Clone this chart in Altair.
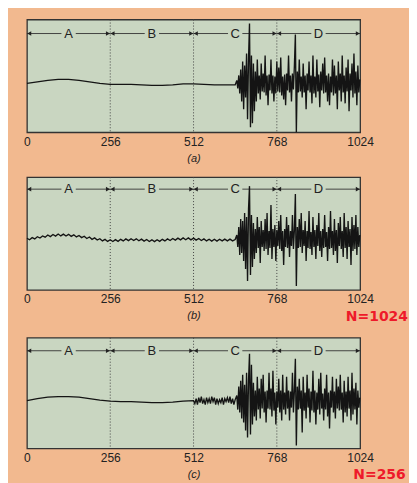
import altair as alt
import pandas as pd

# ---------------- data ----------------
tick_values = [0, 256, 512, 768, 1024]
grid_x = [256, 512, 768]
seg_names = ["A", "B", "C", "D"]
seg_start = [0, 256, 512, 768]
seg_end = [256, 512, 768, 1024]
arrow_y = 50

# sample index of the noisy part (every 3rd sample from 645)
noise_x = list(range(645, 1024, 3))

# panel (a): smooth part (every 32 samples) + noisy part
a_smooth_x = list(range(0, 641, 32))
a_smooth_y = [0, 1.5, 3, 4, 4, 3, 1.5, 0, -1, -1, -1, -1.5, -2, -2, -1.5, -0.5,
              -0.5, -1, -1.5, -1.5, -1.5]
a_noise = [3, -5, 8, -10, 14, -18, 22, -26, 18, -14,
           30, -36, 24, 60, -44, 28, -40, 20, -28, 12,
           -18, 24, -10, 8, -16, 20, -8, 10, -9, 28,
           -12, 8, -22, 9, -7, 24, -10, 8, -18, 7,
           -10, 22, -8, 16, -9, 26, -12, 7, -16, 9,
           -22, 10, -7, 28, -9, 8, -18, 10, -6, 18,
           49, -49, 12, -9, 24, -8, 7, -14, 20, -9,
           8, -26, 10, -7, 22, -9, 8, -20, 28, -10,
           7, -14, 24, -8, 9, -24, 12, -7, 20, -10,
           26, -9, 8, -18, 10, -22, 7, -9, 24, -12,
           18, -10, 8, -26, 22, -7, 10, -18, 28, -9,
           8, -20, 16, -8, 24, -28, 10, -7, 20, -14,
           30, -10, 12, -22, 18, -9, 4]

# panel (b): fuzzy slow part (every 8 samples) + noisy part
b_smooth_x = list(range(0, 641, 8))
b_smooth_y = [0.8, -0.7, 1.4, 0.1, 2.3, 1.0, 3.1, 1.8, 4.0, 2.4,
              4.5, 2.9, 5.0, 3.1, 4.9, 3.0, 4.7, 2.7, 4.2, 2.1,
              3.5, 1.4, 2.8, 0.5, 2.0, -0.3, 1.1, -1.0, 0.3, -1.9,
              -0.4, -2.4, -0.7, -2.5, -0.6, -2.3, -0.3, -1.9, 0.1, -1.6,
              0.3, -1.5, 0.2, -1.7, -0.1, -2.1, -0.5, -2.5, -0.8, -2.6,
              -0.7, -2.3, -0.3, -1.9, 0.1, -1.5, 0.5, -1.1, 0.9, -0.8,
              1.1, -0.7, 1.1, -0.8, 0.9, -1.1, 0.5, -1.5, 0.1, -1.9,
              -0.2, -2.1, -0.3, -2.1, -0.2, -1.9, -0.1, -1.9, -0.1, -1.9,
              -0.5]
b_noise = [4, -8, 12, -16, 20, -14, 18, -22, 26, -30,
           22, -42, 30, 53, -36, 24, -28, 16, -20, 10,
           -14, 22, -9, 12, -24, 18, -8, 9, -12, 20,
           -10, 26, -16, 8, -9, 34, -20, 10, -8, 14,
           -22, 9, -7, 18, -10, 24, -12, 8, -26, 10,
           -8, 22, -9, 14, -18, 8, -7, 24, -10, 9,
           45, -47, 12, -9, 20, -8, 26, -14, 9, -7,
           18, -22, 8, -9, 28, -10, 7, -16, 22, -8,
           9, -20, 14, -7, 26, -12, 8, -18, 10, -9,
           24, -8, 7, -22, 12, -10, 28, -9, 8, -16,
           20, -12, 9, -24, 16, -7, 22, -10, 8, -18,
           26, -9, 12, -20, 18, -8, 10, -26, 22, -12,
           14, -10, 24, -16, 12, -8, 4]

# panel (c): smooth part, fuzzy stretch 512-640, noisy part
c_smooth_x = list(range(0, 481, 32))
c_smooth_y = [0, 2, 3.5, 4, 4, 3.5, 2, 0.5, -0.5, -1, -1, -1.5, -2, -2, -1.5, -0.5]
c_fuzz_x = list(range(512, 641, 4))
c_fuzz_y = [0, -3, 2, -4, 3, -2, 4, -3, 1, -4, 3, -2, 2, -3, 4, -1, 3,
            -4, 2, -3, 1, -2, 3, -4, 2, -1, 3, -2, 4, -3, 2, -4, 1]
c_noise = [5, -9, 14, -12, 20, -18, 26, -22, 16, -30,
           28, -37, 20, 47, -34, 36, -24, 18, -16, 10,
           -20, 24, -9, 12, -18, 22, -8, 26, -12, 9,
           -22, 10, -8, 28, -9, 12, -16, 30, -10, 8,
           -24, 9, -7, 22, -12, 10, -20, 26, -9, 8,
           -14, 24, -8, 10, -20, 9, -7, 28, -12, 10,
           42, -45, 14, -9, 22, -8, 10, -32, 24, -10,
           8, -18, 26, -7, 12, -22, 9, -10, 30, -12,
           10, -24, 8, -9, 22, -14, 28, -8, 7, -20,
           12, -9, 26, -16, 8, -28, 10, -7, 24, -12,
           9, -18, 22, -8, 14, -10, 26, -9, 8, -22,
           20, -12, 9, -16, 24, -8, 10, -20, 28, -14,
           12, -9, 18, -24, 10, -7, 3]

notes_b = {"label": ["N=1024"], "x": [980], "y": [-82]}
notes_c = {"label": ["N=256"], "x": [1003], "y": [-79]}

# ---------------- styling ----------------
PEACH = "#f2b98f"
PLOT = "#c9d6c1"
INK = "#141414"
FONT = "Liberation Sans"
W = 334
GAP = 22  # half gap around the letters on the arrow lines


def panel(xs, ys, ymin, ymax, h, title, notes=None):
    sig = pd.DataFrame({"x": xs, "y": ys})
    xenc = alt.X("x:Q", scale=alt.Scale(domain=[0, 1024], nice=False, zero=False),
                 axis=alt.Axis(values=tick_values, format="d", title=title, grid=False,
                               ticks=False, domain=False, labelFlush=False,
                               labelOverlap=False, labelFontSize=12, labelFont=FONT,
                               labelColor="#222", labelPadding=4, titleFont=FONT,
                               titleFontStyle="italic", titleFontWeight="normal",
                               titleFontSize=11, titlePadding=5, titleColor="#222"))
    x2enc = alt.X2("x2:Q")
    yenc = alt.Y("y:Q", scale=alt.Scale(domain=[ymin, ymax], nice=False, zero=False),
                 axis=None)

    grid = alt.Chart(pd.DataFrame({"x": grid_x})).mark_rule(
        color="#444", strokeDash=[1, 2], strokeWidth=1).encode(x=xenc)

    line = alt.Chart(sig).mark_line(color=INK, strokeWidth=1.35).encode(x=xenc, y=yenc)

    segs = pd.DataFrame({
        "x": [s for s in seg_start] + [(s + e) / 2 + GAP for s, e in zip(seg_start, seg_end)],
        "x2": [(s + e) / 2 - GAP for s, e in zip(seg_start, seg_end)] + [e for e in seg_end],
        "y": [arrow_y] * 8,
    })
    rules = alt.Chart(segs).mark_rule(color="#333", strokeWidth=0.9).encode(
        x=xenc, x2=x2enc, y=yenc)

    heads_l = alt.Chart(pd.DataFrame({"x": [s + 7 for s in seg_start],
                                      "y": [arrow_y] * 4})).mark_point(
        shape="triangle-left", filled=True, size=22, color="#222", opacity=1).encode(x=xenc, y=yenc)
    heads_r = alt.Chart(pd.DataFrame({"x": [e - 7 for e in seg_end],
                                      "y": [arrow_y] * 4})).mark_point(
        shape="triangle-right", filled=True, size=22, color="#222", opacity=1).encode(x=xenc, y=yenc)

    letters = alt.Chart(pd.DataFrame({
        "x": [(s + e) / 2 for s, e in zip(seg_start, seg_end)],
        "y": [arrow_y] * 4, "label": seg_names})).mark_text(
        font=FONT, fontSize=13, color="#222", baseline="middle", align="center").encode(
        x=xenc, y=yenc, text="label:N")

    layers = [grid, rules, heads_l, heads_r, letters, line]
    if notes is not None:
        red = alt.Chart(pd.DataFrame(notes)).mark_text(
            font="DejaVu Sans", fontSize=14, fontWeight="bold", color="#ee1a2a",
            align="left", baseline="alphabetic").encode(x=xenc, y=yenc, text="label:N")
        layers.append(red)
    return alt.layer(*layers).properties(width=W, height=h)


pa = panel(a_smooth_x + noise_x, a_smooth_y + a_noise, -49, 64, 113, "(a)")
pb = panel(b_smooth_x + noise_x, b_smooth_y + b_noise, -51, 62, 113, "(b)", notes_b)
pc = panel(c_smooth_x + c_fuzz_x + noise_x, c_smooth_y + c_fuzz_y + c_noise,
           -48, 63, 111, "(c)", notes_c)

chart = alt.vconcat(pa, pb, pc, spacing=11).properties(
    background=PEACH,
    padding={"left": 15, "top": 9, "right": 0, "bottom": 0},
).configure_view(fill=PLOT, stroke="#333", strokeWidth=1.3)

chart.save("out.html", embed_options={"renderer": "svg", "actions": False})
